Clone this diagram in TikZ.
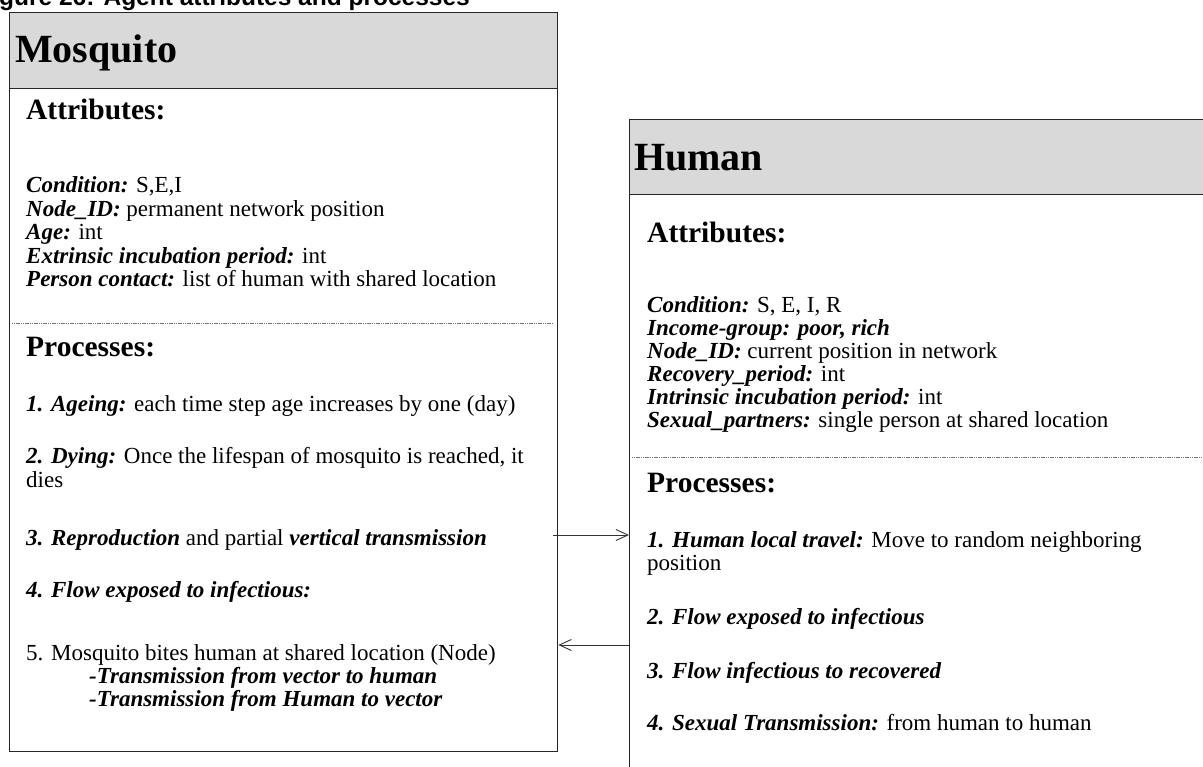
\documentclass[tikz,border=0pt]{standalone}
\usepackage{fontspec}
\setmainfont{Liberation Serif}
\newfontfamily\capfont{Liberation Sans}
\usetikzlibrary{arrows.meta}
\definecolor{hdrfill}{HTML}{D9D9D9}
\newcommand\lbl[1]{\textbf{\textit{#1}}}
\begin{document}
\begin{tikzpicture}[x=1pt,y=-1pt,
  frame/.style={draw=black!85, line width=1.3pt, inner sep=0pt, anchor=north west},
  hdr/.style={frame, fill=hdrfill},
  sep/.style={draw=black!55, line width=0.9pt, dash pattern=on 1.2pt off 0.6pt},
  caption/.style={anchor=base west, inner sep=0pt, font=\capfont\fontsize{24.5}{25}\selectfont\bfseries},
  title/.style={anchor=base west, inner sep=0pt, font=\fontsize{40}{40}\selectfont\bfseries},
  sect/.style={anchor=base west, inner sep=0pt, font=\fontsize{29.5}{29}\selectfont\bfseries},
  txt/.style={anchor=base west, inner sep=0pt, font=\fontsize{23}{23}\selectfont},
  link/.style={draw=black!80, line width=0.9pt, -{Straight Barb[length=12pt,width=11pt]}}]
\useasboundingbox (0,0) rectangle (1203,767);
\clip (0,0) rectangle (1203,767);

% caption strip
\node[caption] (cap) at (-1,6) {gure 26: Agent attributes and processes};

% Mosquito agent box
\node[frame, minimum width=548pt, minimum height=739pt] (mosq) at (9,12) {};
\node[hdr, minimum width=548pt, minimum height=76pt] (mosqhead) at (9,12) {};
\node[title] (mosqtitle) at (15,63) {Mosquito};
\node[sect] (mattr) at (26,120) {Attributes:};
\node[txt] (ma1) at (26,193) {\lbl{Condition:} S,E,I};
\node[txt] (ma2) at (26,216.5) {\lbl{Node\_ID:} permanent network position};
\node[txt] (ma3) at (26,240) {\lbl{Age:} int};
\node[txt] (ma4) at (26,263.5) {\lbl{Extrinsic incubation period:} int};
\node[txt] (ma5) at (26,287) {\lbl{Person contact:} list of human with shared location};
\draw[sep] (12,323) -- (553,323);
\node[sect] (mproc) at (26,357) {Processes:};
\node[txt] (mp1) at (26,412) {\lbl{1. Ageing:} each time step age increases by one (day)};
\node[txt] (mp2) at (26,464) {\lbl{2. Dying:} Once the lifespan of mosquito is reached, it};
\node[txt] (mp2b) at (26,487) {dies};
\node[txt] (mp3) at (26,545) {\lbl{3. Reproduction} and partial \lbl{vertical transmission}};
\node[txt] (mp4) at (26,597) {\lbl{4. Flow exposed to infectious:}};
\node[txt] (mp5) at (26,660) {5. Mosquito bites human at shared location (Node)};
\node[txt] (mp5a) at (89,683) {\lbl{-Transmission from vector to human}};
\node[txt] (mp5b) at (89,706) {\lbl{-Transmission from Human to vector}};

% Human agent box
\node[frame, minimum width=620pt, minimum height=700pt] (hum) at (629,119) {};
\node[hdr, minimum width=620pt, minimum height=75pt] (humhead) at (629,119) {};
\node[title] (humtitle) at (634,171) {Human};
\node[sect] (hattr) at (647,243) {Attributes:};
\node[txt] (ha1) at (647,313) {\lbl{Condition:} S, E, I, R};
\node[txt] (ha2) at (647,336) {\lbl{Income-group: poor, rich}};
\node[txt] (ha3) at (647,359) {\lbl{Node\_ID:} current position in network};
\node[txt] (ha4) at (647,382) {\lbl{Recovery\_period:} int};
\node[txt] (ha5) at (647,405) {\lbl{Intrinsic incubation period:} int};
\node[txt] (ha6) at (647,428) {\lbl{Sexual\_partners:} single person at shared location};
\draw[sep] (632,457) -- (1203,457);
\node[sect] (hproc) at (647,492) {Processes:};
\node[txt] (hp1) at (647,547) {\lbl{1. Human local travel:} Move to random neighboring};
\node[txt] (hp1b) at (647,570) {position};
\node[txt] (hp2) at (647,624) {\lbl{2. Flow exposed to infectious}};
\node[txt] (hp3) at (647,678) {\lbl{3. Flow infectious to recovered}};
\node[txt] (hp4) at (647,730) {\lbl{4. Sexual Transmission:} from human to human};

% interactions between the two agents
\coordinate (outm) at (553,535);
\coordinate (outh) at (hum.west |- 0,645);
\draw[link] (outm) -- (hum.west |- outm);
\draw[link] (outh) -- (mosq.east |- outh);
\end{tikzpicture}
\end{document}
